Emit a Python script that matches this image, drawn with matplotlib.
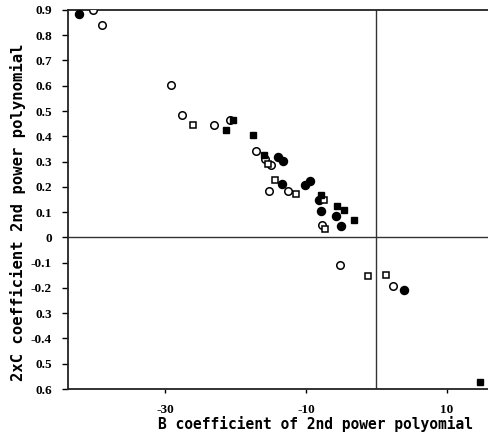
import matplotlib
matplotlib.use("Agg")
import matplotlib.pyplot as plt

# values
open_circle_x = [-40.3, -39.0, -29.1, -27.6, -23.1, -20.8, -17.1, -15.8, -15.0, -15.3, -12.6, -7.7, -5.1, 2.3]
open_circle_y = [0.898, 0.840, 0.603, 0.484, 0.444, 0.465, 0.343, 0.311, 0.287, 0.184, 0.184, 0.049, -0.110, -0.193]

filled_circle_x = [-42.2, -14.0, -13.3, -13.4, -10.1, -9.4, -8.1, -7.9, -5.7, -5.0, 3.9]
filled_circle_y = [0.885, 0.317, 0.304, 0.210, 0.207, 0.225, 0.148, 0.106, 0.086, 0.046, -0.209]

open_square_x = [-26.1, -15.4, -14.4, -11.4, -7.5, -7.3, -1.2, 1.35]
open_square_y = [0.446, 0.290, 0.227, 0.171, 0.148, 0.033, -0.152, -0.150]

filled_square_x = [-21.3, -20.3, -17.5, -16.0, -7.9, -5.6, -4.6, -3.2, 14.7]
filled_square_y = [0.425, 0.465, 0.406, 0.327, 0.168, 0.124, 0.108, 0.069, -0.572]

y_ticks = [0.9, 0.8, 0.7, 0.6, 0.5, 0.4, 0.3, 0.2, 0.1, 0, -0.1, -0.2, -0.3, -0.4, -0.5, -0.6]
y_tick_labels = ["0.9", "0.8", "0.7", "0.6", "0.5", "0.4", "0.3", "0.2", "0.1", "0",
                 "-0.1", "-0.2", "0.3", "-0.4", "0.5", "0.6"]
x_ticks = [-30, -10, 10]
x_tick_labels = ["-30", "-10", "10"]

fig = plt.figure(figsize=(4.89, 4.32), dpi=100)
ax = fig.add_axes([0.139, 0.0995, 0.861, 0.8775])

ax.axhline(0, color="#333333", lw=1.0, zorder=1)
ax.axvline(0, color="#333333", lw=1.0, zorder=1)

ax.plot(open_circle_x, open_circle_y, "o", ms=5.4, mfc="white", mec="black", mew=1.1, ls="none", zorder=3)
ax.plot(filled_circle_x, filled_circle_y, "o", ms=5.8, mfc="black", mec="black", ls="none", zorder=3)
ax.plot(open_square_x, open_square_y, "s", ms=4.6, mfc="white", mec="black", mew=1.1, ls="none", zorder=3)
ax.plot(filled_square_x, filled_square_y, "s", ms=5.0, mfc="black", mec="black", ls="none", zorder=3)

ax.set_xlim(-43.8, 16.0)
ax.set_ylim(-0.6, 0.9)

ax.spines["right"].set_visible(False)
for s in ["left", "top", "bottom"]:
    ax.spines[s].set_linewidth(1.3)
    ax.spines[s].set_color("#222222")

ax.set_yticks(y_ticks)
ax.set_yticklabels(y_tick_labels, family="Liberation Serif", fontsize=9.5, weight="bold")
ax.set_xticks(x_ticks)
ax.set_xticklabels(x_tick_labels, family="Liberation Serif", fontsize=9.5, weight="bold")
ax.tick_params(axis="y", direction="out", length=4.5, width=1, pad=7)
ax.tick_params(axis="x", direction="out", length=3, width=1, pad=8)

ax.set_xlabel("B coefficient of 2nd power polyomial", family="DejaVu Sans Mono", fontsize=10.5, weight="bold")
ax.set_ylabel("2xC coefficient 2nd power polynomial", family="DejaVu Sans Mono", fontsize=11.2, weight="bold")
ax.xaxis.set_label_coords(0.589, -0.071)
ax.yaxis.set_label_coords(-0.10, 0.466)

fig.savefig("out.png", dpi=100)
